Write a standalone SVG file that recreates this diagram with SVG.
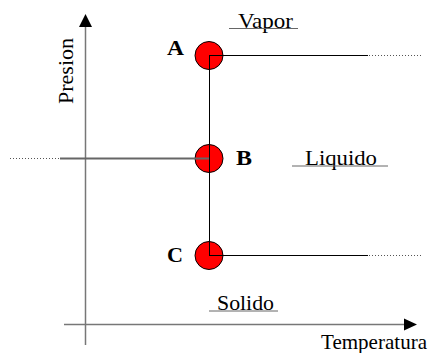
<svg xmlns="http://www.w3.org/2000/svg" width="434" height="353" viewBox="0 0 434 353">
<style>
text{font-family:"Liberation Serif","Times New Roman",serif;font-size:22px;fill:#000}
.b{font-weight:bold;font-size:21px}
.axis{stroke:#777;stroke-width:1.5;fill:none}
.ln{stroke:#000;stroke-width:1;fill:none}
.dot{stroke:#555;stroke-width:1;stroke-dasharray:1 2;fill:none}
.ul{stroke:#666;stroke-width:1}
.pt{fill:#f00;stroke:#000;stroke-width:1}
</style>
<rect width="434" height="353" fill="#fff"/>
<g id="axes">
<line class="axis" x1="85.5" y1="26" x2="85.5" y2="345"/>
<polygon points="85.5,14 79,27 92,27" fill="#000"/>
<line class="axis" x1="64" y1="324.5" x2="405" y2="324.5"/>
<polygon points="417,324.5 404,318.5 404,330.5" fill="#000"/>
<text x="73" y="104" transform="rotate(-90 73 104)" textLength="66" lengthAdjust="spacingAndGlyphs">Presion</text>
<text x="321" y="349" font-size="21" textLength="106" lengthAdjust="spacingAndGlyphs">Temperatura</text>
</g>
<g id="A"><circle class="pt" cx="209" cy="55.5" r="14"/><text class="b" x="167" y="55" textLength="17" lengthAdjust="spacingAndGlyphs">A</text></g>
<g id="B"><circle class="pt" cx="209" cy="158.5" r="14"/><text class="b" x="236" y="165" textLength="16" lengthAdjust="spacingAndGlyphs">B</text></g>
<g id="C"><circle class="pt" cx="209" cy="255.5" r="14"/><text class="b" x="167" y="262" textLength="16" lengthAdjust="spacingAndGlyphs">C</text></g>
<g id="connectors">
<line class="ln" x1="209.5" y1="55.5" x2="209.5" y2="255.5"/>
<line class="ln" x1="209" y1="55.5" x2="368" y2="55.5"/>
<line class="dot" x1="369" y1="55.5" x2="422" y2="55.5"/>
<line class="ln" x1="209" y1="255.5" x2="368" y2="255.5"/>
<line class="dot" x1="369" y1="255.5" x2="422" y2="255.5"/>
<line x1="60" y1="158.5" x2="209" y2="158.5" stroke="#666" stroke-width="1.8"/>
<line class="dot" x1="10" y1="158.5" x2="60" y2="158.5"/>
</g>
<g id="labels">
<text x="238" y="28" textLength="55" lengthAdjust="spacingAndGlyphs">Vapor</text><line class="ul" x1="229" y1="28.5" x2="298" y2="28.5"/>
<text x="305" y="165" textLength="72" lengthAdjust="spacingAndGlyphs">Liquido</text><line class="ul" x1="292" y1="166" x2="388" y2="166"/>
<text x="217" y="310" textLength="57" lengthAdjust="spacingAndGlyphs">Solido</text><line class="ul" x1="209" y1="311" x2="278" y2="311"/>
</g>
</svg>
